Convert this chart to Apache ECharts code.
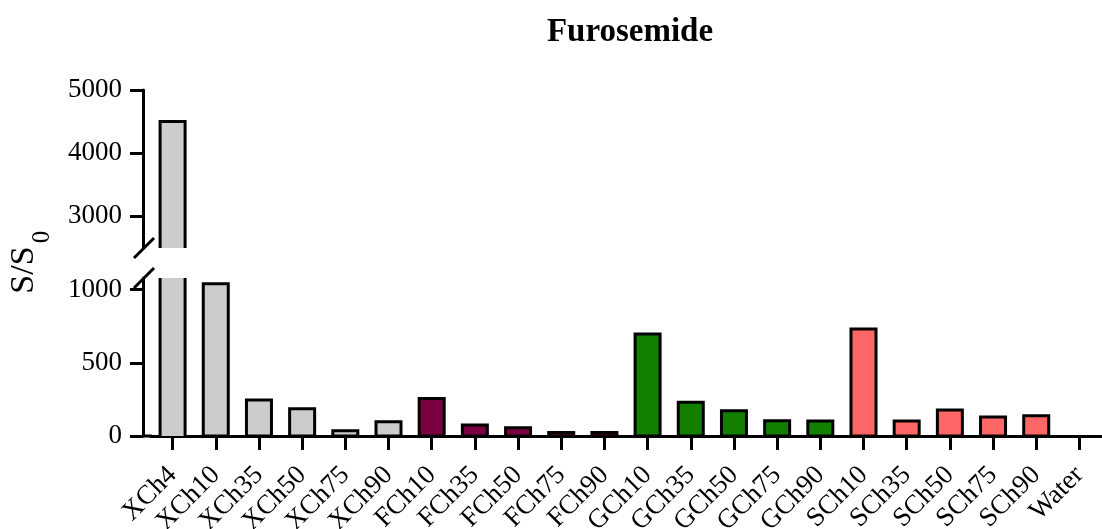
<!DOCTYPE html>
<html>
<head>
<meta charset="utf-8">
<script src="https://cdn.jsdelivr.net/npm/echarts@6/dist/echarts.min.js"></script>
<style>html,body{margin:0;padding:0;background:#fff}#c{width:1102px;height:529px}</style>
</head>
<body>
<div id="c"></div>
<script>
var categories = ['XCh4','XCh10','XCh35','XCh50','XCh75','XCh90','FCh10','FCh35','FCh50','FCh75','FCh90','GCh10','GCh35','GCh50','GCh75','GCh90','SCh10','SCh35','SCh50','SCh75','SCh90','Water'];
var values = [4500,1040,246,187,36,97,257,75,56,24,24,697,230,173,104,102,731,102,178,130,139,0];
var groupColors = {X:'#CCCCCC', F:'#7B0040', G:'#137F00', S:'#FF6666', W:'#FFFFFF'};
var upperRange = [2500,5000];
var lowerRange = [0,1080];
var upperTicks = [3000,4000,5000];
var lowerTicks = [0,500,1000];

var FONT = '"Liberation Serif", "Times New Roman", serif';
var BAR_W = 25, BORDER = 3;
var barColors = categories.map(function(c){ return groupColors[c.charAt(0)]; });
var seriesData = values.map(function(v,i){ return [i, v]; });

function makeRender(range){
  var aMin = range[0], aMax = range[1];
  return function(params, api){
    var i = api.value(0), v = api.value(1);
    if (v <= aMin) return null;
    var top = Math.min(v, aMax);
    var b = api.coord([i, aMin]);
    var t = api.coord([i, top]);
    var x0 = b[0] - BAR_W/2, x1 = b[0] + BAR_W/2;
    var clipTop = v > aMax, clipBottom = aMin > 0;
    var children = [{type:'rect', shape:{x:x0, y:t[1], width:BAR_W, height:b[1]-t[1]},
      style:{fill:barColors[params.dataIndex]}}];
    var lineStyle = {stroke:'#000', lineWidth:BORDER, fill:null, lineJoin:'miter', lineCap:'butt'};
    if (clipTop) {
      children.push({type:'line', shape:{x1:x0, y1:b[1], x2:x0, y2:t[1]}, style:lineStyle});
      children.push({type:'line', shape:{x1:x1, y1:b[1], x2:x1, y2:t[1]}, style:lineStyle});
    } else if (clipBottom) {
      children.push({type:'polyline', shape:{points:[[x0,b[1]],[x0,t[1]],[x1,t[1]],[x1,b[1]]]}, style:lineStyle});
    } else {
      children.push({type:'polygon', shape:{points:[[x0,b[1]],[x0,t[1]],[x1,t[1]],[x1,b[1]]]}, style:lineStyle});
    }
    return {type:'group', children:children};
  };
}

var chart = echarts.init(document.getElementById('c'), null, {renderer:'canvas'});
var gridLeft = 151, gridWidth = 950;
var labelStyle = {color:'#000', fontFamily:FONT, fontSize:27, margin:21, formatter:function(v){return String(v);}};
var yAxisCommon = {
  type:'value', offset:8,
  axisLine:{show:true, lineStyle:{color:'#000', width:3}},
  splitLine:{show:false}
};
function tickStyle(vals){ return {show:true, length:13, customValues:vals, lineStyle:{color:'#000', width:3}}; }
chart.setOption({
  animation:false,
  title:{text:'Furosemide', left:625, top:11, textAlign:'center',
    textStyle:{fontFamily:FONT, fontSize:33, fontWeight:'bold', color:'#000'}},
  grid:[
    {left:gridLeft, width:gridWidth, top:90, height:158, outerBoundsMode:'none', containLabel:false},
    {left:gridLeft, width:gridWidth, top:278, height:158, outerBoundsMode:'none', containLabel:false}
  ],
  xAxis:[
    {type:'category', gridIndex:0, data:categories, show:false},
    {type:'category', gridIndex:1, data:categories,
      axisLine:{show:true, lineStyle:{color:'#000', width:3}},
      axisTick:{show:true, alignWithLabel:true, length:14, lineStyle:{color:'#000', width:3}},
      axisLabel:{color:'#000', fontFamily:FONT, fontSize:27, rotate:45, margin:35, interval:0}}
  ],
  yAxis:[
    Object.assign({}, yAxisCommon, {gridIndex:0, min:upperRange[0], max:upperRange[1],
      axisLabel:Object.assign({}, labelStyle, {customValues:upperTicks}),
      axisTick:tickStyle(upperTicks)}),
    Object.assign({}, yAxisCommon, {gridIndex:1, min:lowerRange[0], max:lowerRange[1],
      axisLabel:Object.assign({}, labelStyle, {customValues:lowerTicks}),
      axisTick:tickStyle(lowerTicks)})
  ],
  series:[
    {type:'custom', xAxisIndex:0, yAxisIndex:0, data:seriesData, encode:{x:0,y:1}, renderItem:makeRender(upperRange), silent:true},
    {type:'custom', xAxisIndex:1, yAxisIndex:1, data:seriesData, encode:{x:0,y:1}, renderItem:makeRender(lowerRange), silent:true}
  ],
  graphic:[
    {type:'line', shape:{x1:134, y1:258, x2:154, y2:238}, style:{stroke:'#000', lineWidth:3}},
    {type:'line', shape:{x1:134, y1:288, x2:154, y2:268}, style:{stroke:'#000', lineWidth:3}},
    {type:'line', shape:{x1:142, y1:436, x2:152, y2:436}, style:{stroke:'#000', lineWidth:3}},
    {type:'text', x:24, y:270, rotation:Math.PI/2,
      style:{text:'S/S', align:'center', verticalAlign:'middle', fontFamily:FONT, fontSize:34, fill:'#000'}},
    {type:'text', x:42, y:237, rotation:Math.PI/2,
      style:{text:'0', align:'center', verticalAlign:'middle', fontFamily:FONT, fontSize:25, fill:'#000'}}
  ]
});
</script>
</body>
</html>
